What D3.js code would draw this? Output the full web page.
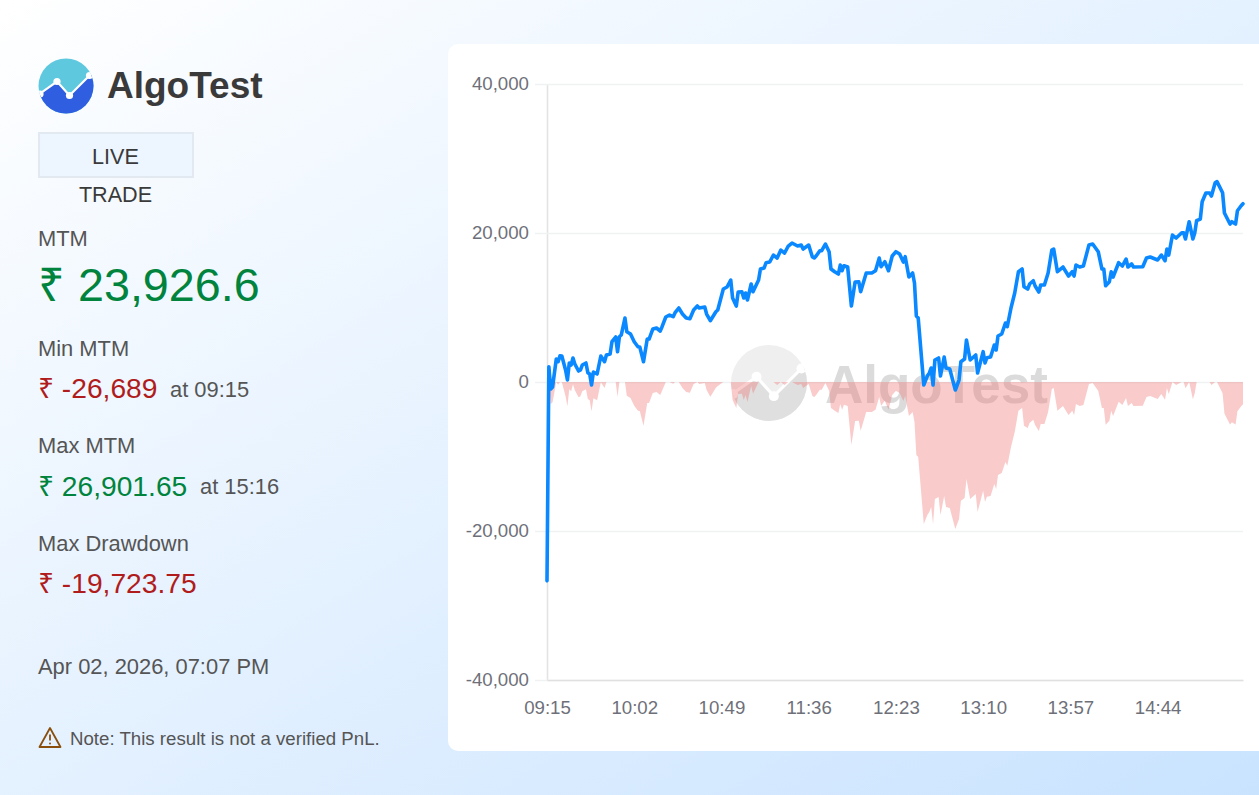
<!DOCTYPE html>
<html>
<head>
<meta charset="utf-8">
<script src="https://cdn.jsdelivr.net/npm/d3@7"></script>
<style>
  html, body { margin: 0; padding: 0; width: 1259px; height: 795px; overflow: hidden; }
  svg { display: block; font-family: "Liberation Sans", Arial, sans-serif; }
  .axis text { font-size: 18.67px; fill: #6e7079; font-family: "Liberation Sans", Arial, sans-serif; }
</style>
</head>
<body>
<svg id="page" width="1259" height="795"></svg>
<script>
//-----------Data--------------
// minutes after 09:15, MTM and drawdown
var minutes = [0,1,2,3,5,6,7,8,10,11,12,13,14,15,17,18,19,21,22,23,24,25,27,29,31,32,34,35,37,38,39,40,42,43,45,47,49,50,52,54,55,57,59,61,62,64,66,68,69,71,73,75,77,79,81,82,85,86,88,91,92,95,97,99,100,102,103,105,106,107,108,110,111,114,115,117,118,120,122,124,126,128,130,132,135,137,138,141,143,144,145,147,148,150,152,153,155,157,158,159,160,162,164,166,168,169,172,175,177,179,180,182,184,186,188,190,192,193,195,197,198,199,200,203,205,206,207,208,209,211,212,214,215,217,220,222,223,225,226,228,231,232,235,236,237,239,241,242,243,245,247,248,250,252,254,256,257,259,260,262,263,265,266,268,270,272,273,275,278,281,283,284,285,287,289,292,294,297,299,300,301,303,304,305,308,310,312,313,315,316,321,323,325,329,331,333,334,335,337,339,342,343,344,346,348,349,350,352,353,355,357,358,360,361,364,365,368,369,371,372,374,375];

var mtm = [-26689,2053,-939,-671,3087,2724,3529,3489,1610,268,2550,2281,3221,2416,1476,1610,2281,2550,1248,1074,-403,1342,1074,3489,2724,3623,3758,5408,6039,4066,6079,6307,8589,6750,6442,5408,4737,4697,2724,5771,5771,7113,7247,6844,7421,8723,8991,8763,9300,9931,9126,8589,8495,9662,10199,9931,10065,9126,8226,9434,9662,12481,12749,13688,11273,10199,12078,12118,11273,11944,11004,13152,12118,13688,15165,15299,16010,16104,17043,16641,17714,17312,18251,18654,18251,18385,17849,18385,16775,16641,16909,17620,17620,18520,17486,15165,14802,14494,15701,14936,15607,15433,10199,13420,13460,12118,14628,14628,14936,16641,15473,16144,14936,16909,17486,17178,16104,16815,14091,14628,13286,8857,8589,-403,845,1208,1879,-403,2952,3221,805,3355,1879,1745,-1074,268,2724,3087,5636,2952,3623,1208,4066,2550,3261,3355,4965,4294,6173,6442,7918,7421,9931,11944,14802,15165,12789,12481,13152,13594,12883,12078,13017,13017,14628,17714,17849,14802,15433,14225,14802,14225,15701,15433,15567,18385,18520,17486,15165,15165,12923,13460,14802,14091,16010,15567,16507,15433,15836,15433,15473,16641,16775,16372,17043,16278,17849,17043,19727,19325,20036,20036,19191,21512,19191,19996,21646,21875,24196,25364,25364,24961,26746,26901.65,25404,22680,21204,21512,21204,22988,23659,23926.6];

var drawdown = [0,0,-2992,-2724,0,-363,0,-40,-1919,-3261,-979,-1248,-308,-1113,-2053,-1919,-1248,-979,-2281,-2455,-3932,-2187,-2455,-40,-805,0,0,0,0,-1973,0,0,0,-1839,-2147,-3181,-3852,-3892,-5865,-2818,-2818,-1476,-1342,-1745,-1168,0,0,-228,0,0,-805,-1342,-1436,-269,0,-268,-134,-1073,-1973,-765,-537,0,0,0,-2415,-3489,-1610,-1570,-2415,-1744,-2684,-536,-1570,0,0,0,0,0,0,-402,0,-402,0,0,-403,-269,-805,-269,-1879,-2013,-1745,-1034,-1034,-134,-1168,-3489,-3852,-4160,-2953,-3718,-3047,-3221,-8455,-5234,-5194,-6536,-4026,-4026,-3718,-2013,-3181,-2510,-3718,-1745,-1168,-1476,-2550,-1839,-4563,-4026,-5368,-9797,-10065,-19057,-17809,-17446,-16775,-19057,-15702,-15433,-17849,-15299,-16775,-16909,-19723.75,-18386,-15930,-15567,-13018,-15702,-15031,-17446,-14588,-16104,-15393,-15299,-13689,-14360,-12481,-12212,-10736,-11233,-8723,-6710,-3852,-3489,-5865,-6173,-5502,-5060,-5771,-6576,-5637,-5637,-4026,-940,-805,-3852,-3221,-4429,-3852,-4429,-2953,-3221,-3087,-269,-134,-1168,-3489,-3489,-5731,-5194,-3852,-4563,-2644,-3087,-2147,-3221,-2818,-3221,-3181,-2013,-1879,-2282,-1611,-2376,-805,-1611,0,-402,0,0,-845,0,-2321,-1516,0,0,0,0,0,-403,0,0,-1498,-4222,-5698,-5390,-5698,-3914,-3243,-2975];

var xTickLabels = ["09:15","10:02","10:49","11:36","12:23","13:10","13:57","14:44"];
var xTickStep = 47;
var yTicks = [-40000,-20000,0,20000,40000];

//-----------Setup--------------
var svg = d3.select("#page");
var defs = svg.append("defs");

var bg = defs.append("linearGradient").attr("id", "bg")
  .attr("x1", "0").attr("y1", "0").attr("x2", "1").attr("y2", "1");
bg.append("stop").attr("offset", "0%").attr("stop-color", "#ffffff");
bg.append("stop").attr("offset", "100%").attr("stop-color", "#c9e3ff");

svg.append("rect").attr("width", 1259).attr("height", 795).attr("fill", "url(#bg)");
svg.append("rect").attr("x", 448).attr("y", 44).attr("width", 830).attr("height", 707)
  .attr("rx", 10).attr("fill", "#fff");

// logo is used twice: header and chart watermark
function drawLogo(parent, id, cx, cy, r, topColor, bottomColor, lineColor) {
  var k = r / 27.5;
  var g = parent.append("g").attr("transform", "translate(" + cx + "," + cy + ") scale(" + k + ")");
  var pts = [[-35, 14], [-9, -4.5], [3.5, 9.5], [23.5, -10.5], [35, -24]];
  var path = d3.line()(pts);
  defs.append("clipPath").attr("id", id).append("circle").attr("r", 27.5);
  var inner = g.append("g").attr("clip-path", "url(#" + id + ")");
  inner.append("rect").attr("x", -28).attr("y", -28).attr("width", 56).attr("height", 56).attr("fill", topColor);
  inner.append("path").attr("d", path + "L35,30L-35,30Z").attr("fill", bottomColor);
  inner.append("path").attr("d", path).attr("fill", "none").attr("stroke", lineColor).attr("stroke-width", 2.2);
  inner.selectAll("circle.dot").data(pts.slice(1, 4).concat([[-26, 8]])).enter().append("circle")
    .attr("class", "dot").attr("cx", function(d) { return d[0]; }).attr("cy", function(d) { return d[1]; })
    .attr("r", 3.6).attr("fill", lineColor);
}

function label(x, y, str, size, color, weight, anchor) {
  return svg.append("text").attr("x", x).attr("y", y).text(str)
    .attr("font-size", size).attr("fill", color)
    .attr("font-weight", weight || "normal").attr("text-anchor", anchor || "start");
}

//-----------Left panel--------------
drawLogo(svg, "logoClip", 66, 86, 27.5, "#5ec8df", "#2f5fe0", "#ffffff");
label(107, 98, "AlgoTest", 37, "#3a3a3a", "bold");

svg.append("rect").attr("x", 39).attr("y", 133).attr("width", 154).attr("height", 44)
  .attr("fill", "#edf6fe").attr("stroke", "#e2e9f0").attr("stroke-width", 2);
label(115.5, 164, "LIVE", 21.6, "#3a3a3a", "normal", "middle");
label(115.5, 202, "TRADE", 21.6, "#3a3a3a", "normal", "middle");

var green = "#00843d", red = "#b01c1c", grey = "#555555";
label(38, 246, "MTM", 21.9, grey);
label(38, 301, "₹ 23,926.6", 46.7, green);
label(38, 356, "Min MTM", 21.9, grey);
label(38, 398, "₹ -26,689", 28.2, red);
label(170, 397, "at 09:15", 21.9, grey);
label(38, 453, "Max MTM", 21.9, grey);
label(38, 496, "₹ 26,901.65", 28.2, green);
label(200, 494, "at 15:16", 21.9, grey);
label(38, 551, "Max Drawdown", 21.9, grey);
label(38, 593, "₹ -19,723.75", 28.2, red);
label(38, 674, "Apr 02, 2026, 07:07 PM", 21.9, grey);
label(70, 745, "Note: This result is not a verified PnL.", 18.67, grey);

// warning icon
var warn = svg.append("g").attr("transform", "translate(50,738)");
warn.append("path").attr("d", "M0,-10 L10.5,9 L-10.5,9 Z").attr("fill", "none")
  .attr("stroke", "#8a4f0c").attr("stroke-width", 1.8).attr("stroke-linejoin", "round");
warn.append("path").attr("d", "M0,-3.5 L0,2.5").attr("stroke", "#8a4f0c").attr("stroke-width", 1.8);
warn.append("circle").attr("cy", 5.6).attr("r", 1).attr("fill", "#8a4f0c");

//-----------Chart--------------
var x = d3.scaleLinear().domain([0, 375]).range([547, 1243]);
var y = d3.scaleLinear().domain([-40000, 40000]).range([680, 84]);

// gridlines, with the short stub left of the axis
var yFormat = d3.format(",");
var yAxis = d3.axisLeft(y).tickValues(yTicks)
  .tickFormat(function(d) { return yFormat(d).replace("\u2212", "-"); })
  .tickSize(0).tickPadding(18);
var yG = svg.append("g").attr("class", "axis").attr("transform", "translate(547,0)").call(yAxis);
yG.select(".domain").attr("stroke", "#e3e3e3").attr("stroke-width", 1.6);
yG.selectAll(".tick").append("line").attr("x1", -12).attr("x2", 696)
  .attr("stroke", "#f0f1f3").attr("stroke-width", 1.5);

var xAxis = d3.axisBottom(x).tickValues(d3.range(0, 375, xTickStep))
  .tickFormat(function(d, i) { return xTickLabels[i]; }).tickSize(0).tickPadding(21);
var xG = svg.append("g").attr("class", "axis").attr("transform", "translate(0,680)").call(xAxis);
xG.select(".domain").attr("stroke", "#e0e0e0").attr("stroke-width", 1.6);

// watermark sits under the series
drawLogo(svg, "markClip", 769, 383, 38, "#efefef", "#dfdfdf", "#ffffff");
label(825, 403, "AlgoTest", 53, "#dbdbdb", "bold");

var idx = d3.range(minutes.length);

var area = d3.area()
  .x(function(i) { return x(minutes[i]); })
  .y0(y(0))
  .y1(function(i) { return y(drawdown[i]); });

svg.append("path").datum(idx).attr("d", area)
  .attr("fill", "#ef6f6f").attr("fill-opacity", 0.36);

var line = d3.line()
  .x(function(i) { return x(minutes[i]); })
  .y(function(i) { return y(mtm[i]); });

svg.append("path").datum(idx).attr("d", line)
  .attr("fill", "none").attr("stroke", "#0a88ff").attr("stroke-width", 3.6)
  .attr("stroke-linejoin", "round").attr("stroke-linecap", "round");
</script>
</body>
</html>
